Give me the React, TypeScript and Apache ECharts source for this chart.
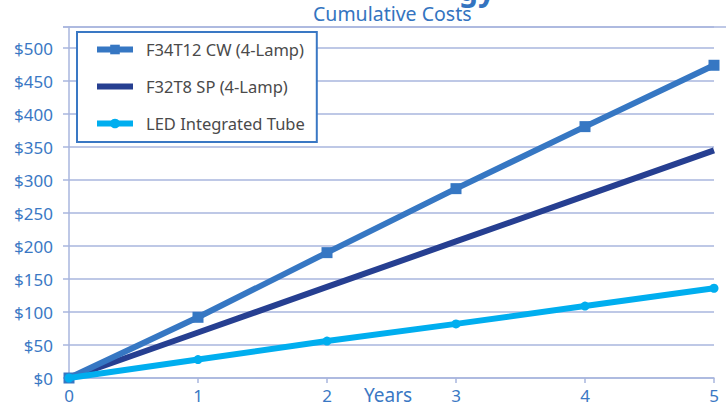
import React, { useEffect, useRef } from "react";
import * as echarts from "echarts";

const years = [0, 1, 2, 3, 4, 5];
const f34t12 = [0, 92, 190, 287, 381, 474];
const f32t8 = [0, 69, 138, 207, 276, 345];
const led = [0, 28, 56, 82, 109, 136];
const seriesNames = ["F34T12 CW (4-Lamp)", "F32T8 SP (4-Lamp)", "LED Integrated Tube"];

const FONT = "'Noto Sans', sans-serif";
const BLUE = "#3a78c4";
const GRID = "#a9b6de";

export default function App() {
  const ref = useRef<HTMLDivElement>(null);
  useEffect(() => {
    if (!ref.current) return;
    const chart = echarts.init(ref.current, null, { renderer: "svg" });
    const pts = (arr: number[]) => years.map((y, i) => [y, arr[i]]);
    chart.setOption({
      animation: false,
      textStyle: { fontFamily: FONT },
      grid: { left: 69, right: 12, top: 27, bottom: 29, containLabel: false },
      xAxis: {
        type: "value",
        min: 0,
        max: 5,
        interval: 1,
        axisLine: { show: true, lineStyle: { color: GRID, width: 1.5 } },
        axisTick: { show: true, length: 5, lineStyle: { color: GRID, width: 1.5 } },
        axisLabel: { color: BLUE, fontSize: 17, margin: 9, fontFamily: FONT },
        splitLine: { show: false },
      },
      yAxis: {
        type: "value",
        min: 0,
        max: 532,
        interval: 50,
        axisLine: { show: true, lineStyle: { color: GRID, width: 1.5 } },
        axisTick: { show: true, length: 6, lineStyle: { color: GRID, width: 1.5 } },
        axisLabel: {
          color: BLUE,
          fontSize: 17,
          margin: 16,
          fontFamily: FONT,
          formatter: (v: number) => (v % 50 === 0 ? "$" + v : ""),
        },
        splitLine: { show: true, lineStyle: { color: GRID, width: 1.5 } },
      },
      legend: {
        orient: "vertical",
        left: 77,
        top: 32,
        padding: [9, 12, 10, 17],
        itemGap: 20,
        itemWidth: 36,
        itemHeight: 12,
        backgroundColor: "#ffffff",
        borderColor: BLUE,
        borderWidth: 2,
        borderRadius: 0,
        lineStyle: { width: 6 },
        textStyle: { color: "#4a4a4a", fontSize: 16.5, fontFamily: FONT, padding: [0, 0, 0, 8] },
        data: [
          { name: seriesNames[0] },
          { name: seriesNames[1], itemStyle: { opacity: 0 } },
          { name: seriesNames[2] },
        ],
      },
      graphic: [
        { type: "line", shape: { x1: 63, y1: 27, x2: 726, y2: 27 }, style: { stroke: GRID, lineWidth: 1.5 }, z: 1 },
        {
          type: "text",
          x: 313,
          y: 3,
          style: { text: "Cumulative Costs", fill: "#3474c0", fontSize: 19.5, fontFamily: FONT },
        },
        {
          type: "text",
          x: 459,
          y: -26,
          style: { text: "gy", fill: "#3474c0", fontSize: 30, fontWeight: "bold", fontFamily: FONT },
        },
        {
          type: "text",
          x: 364,
          y: 385,
          style: { text: "Years", fill: BLUE, fontSize: 19, fontFamily: FONT },
        },
      ],
      series: [
        {
          name: seriesNames[0],
          type: "line",
          data: pts(f34t12),
          symbol: "rect",
          symbolSize: 11,
          color: "#3677c3",
          lineStyle: { width: 6, color: "#3677c3" },
          itemStyle: { color: "#3677c3" },
          z: 4,
        },
        {
          name: seriesNames[1],
          type: "line",
          data: pts(f32t8),
          symbol: "none",
          color: "#263f91",
          lineStyle: { width: 6, color: "#263f91" },
          itemStyle: { color: "#263f91" },
          z: 3,
        },
        {
          name: seriesNames[2],
          type: "line",
          data: pts(led),
          symbol: "circle",
          symbolSize: 9,
          color: "#00aeef",
          lineStyle: { width: 6, color: "#00aeef" },
          itemStyle: { color: "#00aeef" },
          z: 5,
        },
      ],
    });
    return () => chart.dispose();
  }, []);
  return <div ref={ref} style={{ width: 726, height: 407, position: "absolute", left: 0, top: 0 }} />;
}
